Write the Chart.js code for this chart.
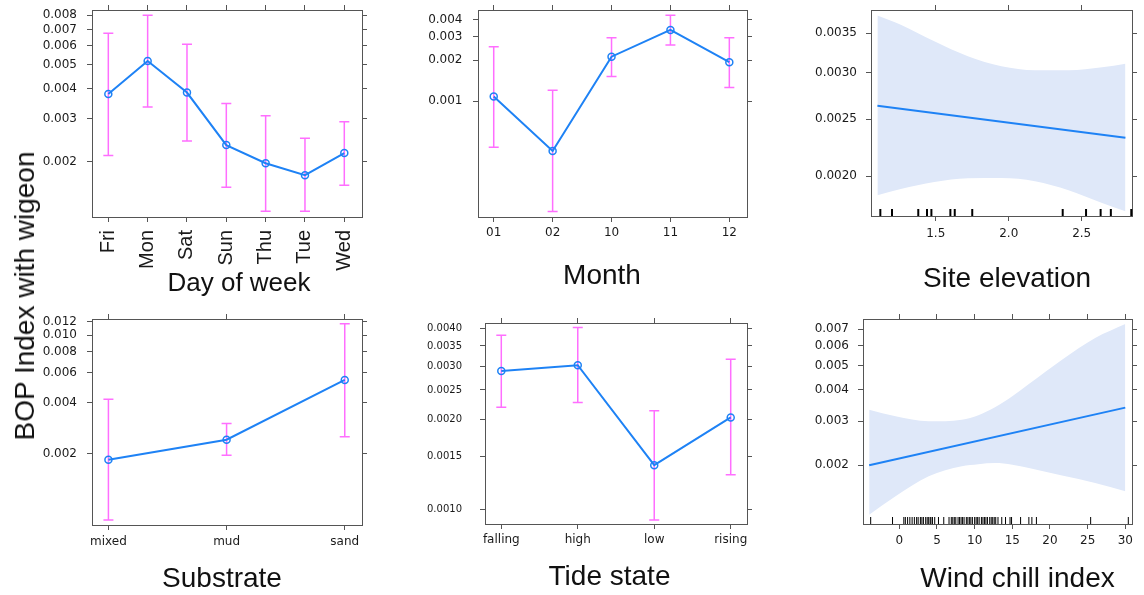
<!DOCTYPE html>
<html><head><meta charset="utf-8">
<script src="https://cdn.jsdelivr.net/npm/chart.js@4.4.0/dist/chart.umd.min.js"></script>
<style>
html,body{margin:0;padding:0;background:#fff;}
#wrap{position:relative;width:1144px;height:595px;overflow:hidden;background:#fff;}
#wrap canvas{position:absolute;}
.t{position:absolute;font-family:"Liberation Sans",Arial,sans-serif;color:#111;white-space:nowrap;line-height:1;transform:translate(-50%,-50%);}
</style></head>
<body><div id="wrap"></div>
<script>
// ---------- DATA ----------
const days = ['Fri','Mon','Sat','Sun','Thu','Tue','Wed'];
const dayFit  = [0.0038, 0.00519, 0.00385, 0.00234, 0.00197, 0.00176, 0.00217];
const dayLow  = [0.00212, 0.00336, 0.00243, 0.00157, 0.00125, 0.00125, 0.0016];
const dayHigh = [0.00675, 0.0080, 0.00608, 0.00347, 0.00309, 0.0025, 0.00292];
const dayTicks = ['0.002','0.003','0.004','0.005','0.006','0.007','0.008'];

const months = ['01','02','10','11','12'];
const monthFit  = [0.00108, 0.000426, 0.00213, 0.00336, 0.00194];
const monthLow  = [0.000454, 0.000152, 0.00152, 0.0026, 0.00126];
const monthHigh = [0.00252, 0.0012, 0.00294, 0.00431, 0.00294];
const monthTicks = ['0.001','0.002','0.003','0.004'];

const elevLineX = [1.1, 2.8];
const elevFit = [0.002634, 0.002323];
const elevBandX = [1.1, 1.26, 1.49, 1.72, 1.95, 2.18, 2.41, 2.64, 2.8];
const elevUpper = [0.003752, 0.003617, 0.003389, 0.003196, 0.003073, 0.003026, 0.003026, 0.003061, 0.003105];
const elevLower = [0.001854, 0.0019, 0.001953, 0.001982, 0.001984, 0.001959, 0.001891, 0.001799, 0.001742];
const elevRug = [1.12, 1.2, 1.38, 1.44, 1.47, 1.6, 1.63, 1.75, 2.37, 2.53, 2.63, 2.7, 2.84];
const elevTicksX = ['1.5','2.0','2.5'];
const elevTicksY = ['0.0020','0.0025','0.0030','0.0035'];

const substrates = ['mixed','mud','sand'];
const subFit  = [0.001843, 0.002418, 0.00545];
const subLow  = [0.000812, 0.001954, 0.00252];
const subHigh = [0.00419, 0.00301, 0.0117];
const subTicks = ['0.002','0.004','0.006','0.008','0.010','0.012'];

const tides = ['falling','high','low','rising'];
const tideFit  = [0.00289, 0.00302, 0.001406, 0.002025];
const tideLow  = [0.00219, 0.00227, 0.000923, 0.001306];
const tideHigh = [0.0038, 0.00403, 0.00213, 0.00316];
const tideTicks = ['0.0010','0.0015','0.0020','0.0025','0.0030','0.0035','0.0040'];

const windLineX = [-4, 30];
const windFit = [0.002, 0.0034];
const windBandX = [-4, -0.5, 3.9, 8.3, 10.5, 12.7, 15, 17.2, 21.6, 26, 30];
const windUpper = [0.003335, 0.003139, 0.002997, 0.003042, 0.003168, 0.003409, 0.003773, 0.004224, 0.005283, 0.006451, 0.007336];
const windLower = [0.001269, 0.001503, 0.001807, 0.001982, 0.00202, 0.00204, 0.002011, 0.00195, 0.00182, 0.0017, 0.001574];
const windRug = [-3.8, -0.9, 0.6, 0.8, 1.1, 1.4, 1.7, 2.0, 2.3, 2.5, 2.8, 3.0, 3.2, 3.5, 3.7, 3.9, 4.1, 4.2, 4.4, 4.7, 5.2, 5.9,
  6.6, 6.9, 7.1, 7.3, 7.5, 7.8, 8.0, 8.2, 8.4, 8.6, 8.9, 9.1, 9.3, 9.5, 9.7, 10.0, 10.2, 10.4, 10.6, 10.9, 11.1, 11.3, 11.5,
  11.7, 12.0, 12.2, 12.4, 12.6, 12.8, 13.1, 13.6, 14.1, 14.7, 14.9, 16.1, 17.2, 17.6, 18.2, 25.4, 30.4];
const windTicksX = ['0','5','10','15','20','25','30'];
const windTicksY = ['0.002','0.003','0.004','0.005','0.006','0.007'];

// ---------- STYLE ----------
const LINE = '#1E82F5', ERR = '#FF6EFF', BAND = '#DFE8F9', AXC = '#555', TXT = '#1a1a1a';
const SMALL = "'DejaVu Sans', sans-serif", SANS = "'Liberation Sans', Arial, sans-serif";
const L = 100, T = 20, R = 30, B = 70, TL = 5;
const wrap = document.getElementById('wrap');

const errPlugin = {
  id: 'errbars',
  beforeDatasetsDraw(chart, args, o) {
    if (!o || !o.low) return;
    const xs = chart.scales.x, ys = chart.scales.y, ctx = chart.ctx;
    ctx.save(); ctx.strokeStyle = ERR; ctx.lineWidth = 1.5;
    o.low.forEach((lv, i) => {
      const px = xs.getPixelForValue(i), p1 = ys.getPixelForValue(lv), p2 = ys.getPixelForValue(o.high[i]);
      ctx.beginPath();
      ctx.moveTo(px, p1); ctx.lineTo(px, p2);
      ctx.moveTo(px - 5, p1); ctx.lineTo(px + 5, p1);
      ctx.moveTo(px - 5, p2); ctx.lineTo(px + 5, p2);
      ctx.stroke();
    });
    ctx.restore();
  }
};
const rugPlugin = {
  id: 'rug',
  afterDatasetsDraw(chart, args, o) {
    if (!o || !o.values) return;
    const xs = chart.scales.x, a = chart.chartArea, ctx = chart.ctx;
    ctx.save(); ctx.strokeStyle = '#000'; ctx.lineWidth = o.width;
    o.values.forEach(v => {
      const px = xs.getPixelForValue(v);
      ctx.beginPath(); ctx.moveTo(px, a.bottom); ctx.lineTo(px, a.bottom - 7); ctx.stroke();
    });
    ctx.restore();
  }
};

function panel(o) {
  const [l, t, r, b] = o.box;
  const W = r - l + L + R, H = b - t + T + B;
  const cv = document.createElement('canvas');
  cv.width = W; cv.height = H;
  cv.style.left = (l - L) + 'px'; cv.style.top = (t - T) + 'px';
  cv.style.width = W + 'px'; cv.style.height = H + 'px';
  wrap.appendChild(cv);
  const yVals = o.yLabels.map(Number);
  const xVals = o.xVals, xLabels = o.xLabels;
  const yAxis = (pos) => ({
    type: 'logarithmic', position: pos, min: o.yMin, max: o.yMax, bounds: 'data',
    afterBuildTicks: s => { s.ticks = yVals.map(v => ({value: v})); },
    afterFit: s => { s.width = pos === 'left' ? L : R; },
    grid: {drawOnChartArea: false, color: AXC, tickLength: TL, lineWidth: 1},
    border: {display: true, color: AXC, width: 1},
    ticks: {display: pos === 'left', padding: o.yPad, color: TXT, font: {family: SMALL, size: o.ySize || 12},
      callback: (v, i) => o.yLabels[i]}
  });
  const xAxis = (pos) => ({
    type: 'linear', position: pos, min: o.xMin, max: o.xMax, bounds: 'data',
    afterBuildTicks: s => { s.ticks = xVals.map(v => ({value: v})); },
    afterFit: s => { s.height = pos === 'bottom' ? B : T; },
    grid: {drawOnChartArea: false, color: AXC, tickLength: TL, lineWidth: 1},
    border: {display: true, color: AXC, width: 1},
    ticks: {display: pos === 'bottom', autoSkip: false, maxRotation: o.xRot || 0, minRotation: o.xRot || 0,
      padding: o.xPad, color: TXT, font: {family: o.xFamily || SMALL, size: o.xSize || 12},
      callback: (v, i) => xLabels[i]}
  });
  new Chart(cv, {
    type: 'line',
    data: {datasets: o.datasets},
    options: {
      responsive: false, animation: false, devicePixelRatio: 1,
      layout: {padding: 0},
      plugins: {legend: {display: false}, tooltip: {enabled: false},
        errbars: o.err || {}, rug: o.rug || {}},
      scales: {x: xAxis('bottom'), x2: xAxis('top'), y: yAxis('left'), y2: yAxis('right')}
    },
    plugins: [errPlugin, rugPlugin]
  });
}

function catLine(fit) {
  return [{data: fit.map((v, i) => ({x: i, y: v})), borderColor: LINE, borderWidth: 2,
    pointRadius: 3.5, pointBorderWidth: 1.5, pointBorderColor: LINE, pointBackgroundColor: 'rgba(0,0,0,0)', fill: false}];
}
function bandLines(bx, up, lo, lx, fit) {
  return [
    {data: lx.map((x, i) => ({x, y: fit[i]})), borderColor: LINE, borderWidth: 2, pointRadius: 0, fill: false, order: 0},
    {data: bx.map((x, i) => ({x, y: up[i]})), borderColor: 'rgba(0,0,0,0)', borderWidth: 1, pointRadius: 0, fill: false, cubicInterpolationMode: 'monotone', order: 1},
    {data: bx.map((x, i) => ({x, y: lo[i]})), borderColor: 'rgba(0,0,0,0)', borderWidth: 1, pointRadius: 0, fill: '-1', backgroundColor: BAND, cubicInterpolationMode: 'monotone', order: 2}
  ];
}
const idx = a => a.map((_, i) => i);

panel({box: [92, 10, 362, 217], xMin: -0.415, xMax: 6.45, xVals: idx(days), xLabels: days, xRot: 90, xSize: 20, xFamily: SANS, xPad: 8,
  yMin: 0.001184, yMax: 0.008418, yLabels: dayTicks, yPad: 10, datasets: catLine(dayFit), err: {low: dayLow, high: dayHigh}});
panel({box: [478, 10, 747, 217], xMin: -0.267, xMax: 4.30, xVals: idx(months), xLabels: months, xPad: 4,
  yMin: 0.0001384, yMax: 0.00472, yLabels: monthTicks, yPad: 10.5, datasets: catLine(monthFit), err: {low: monthLow, high: monthHigh}});
panel({box: [871, 10, 1132, 216], xMin: 1.056, xMax: 2.845, xVals: elevTicksX.map(Number), xLabels: elevTicksX, xPad: 5.5,
  yMin: 0.00171, yMax: 0.003832, yLabels: elevTicksY, yPad: 9,
  datasets: bandLines(elevBandX, elevUpper, elevLower, elevLineX, elevFit), rug: {values: elevRug, width: 2}});
panel({box: [92, 319, 362, 525], xMin: -0.139, xMax: 2.146, xVals: idx(substrates), xLabels: substrates, xPad: 4.5,
  yMin: 0.000758, yMax: 0.01247, yLabels: subTicks, yPad: 10, datasets: catLine(subFit), err: {low: subLow, high: subHigh}});
panel({box: [485, 319, 747, 524], xMin: -0.213, xMax: 3.213, xVals: idx(tides), xLabels: tides, xPad: 4,
  yMin: 0.000896, yMax: 0.004173, yLabels: tideTicks, ySize: 10, yPad: 18, datasets: catLine(tideFit), err: {low: tideLow, high: tideHigh}});
panel({box: [863, 319, 1132, 524], xMin: -4.82, xMax: 30.89, xVals: windTicksX.map(Number), xLabels: windTicksX, xPad: 5,
  yMin: 0.001165, yMax: 0.007685, yLabels: windTicksY, yPad: 9,
  datasets: bandLines(windBandX, windUpper, windLower, windLineX, windFit), rug: {values: windRug, width: 1}});

// ---------- TITLES ----------
function txt(s, x, y, size, rot) {
  const d = document.createElement('div');
  d.className = 't'; d.textContent = s;
  d.style.left = x + 'px'; d.style.top = y + 'px'; d.style.fontSize = size + 'px';
  if (rot) d.style.transform = 'translate(-50%,-50%) rotate(-90deg)';
  wrap.appendChild(d);
}
txt('Day of week', 239, 282, 26);
txt('Month', 602, 275, 28);
txt('Site elevation', 1007, 277.5, 28);
txt('Substrate', 222, 577.5, 28);
txt('Tide state', 609.5, 576, 28);
txt('Wind chill index', 1017.5, 578, 28);
txt('BOP Index with wigeon', 25, 296, 28, true);
</script>
</body></html>
